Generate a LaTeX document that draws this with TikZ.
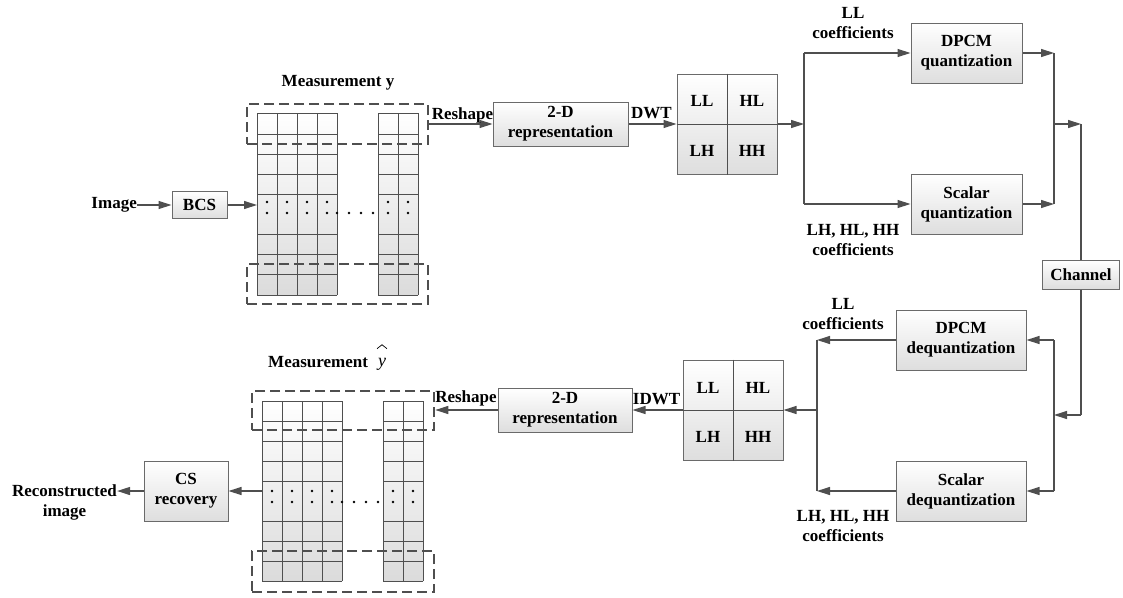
\documentclass[tikz,border=0pt]{standalone}
\usepackage{fontspec}
\setmainfont{Liberation Serif}
\usetikzlibrary{arrows.meta,calc}
\definecolor{lnc}{HTML}{4F4F4F}
\definecolor{bdc}{HTML}{6A6A6A}
\begin{document}
\begin{tikzpicture}[x=1pt,y=-1pt,
  txt/.style={font=\bfseries\fontsize{17}{20}\selectfont},
  box/.style={txt, draw=bdc, line width=1pt, top color=white, bottom color=black!13, align=center, inner sep=0pt},
  lbl/.style={txt, align=center, inner sep=0pt},
  arr/.style={draw=lnc, line width=1.3pt, -{Triangle[length=13pt,width=8pt]}},
  wire/.style={draw=lnc, line width=1.3pt},
  dbox/.style={draw=lnc, line width=2.6pt, dash pattern=on 10pt off 5pt, inner sep=0pt},
  gline/.style={draw=lnc, line width=1pt},
  dotc/.style={fill=black}
]
\useasboundingbox (0,0) rectangle (1123,597);

% ---------------- upper chain ----------------
\node[lbl, anchor=east] (img) at (137,205) {Image};
\node[box, minimum width=55, minimum height=27] (bcs) at (199.5,205) {BCS};
\draw[arr] (img.east) -- (img.east -| bcs.west);

% upper measurement grid
\shade[top color=white, bottom color=black!14] (257,113) rectangle (337,295);
\shade[top color=white, bottom color=black!14] (378,113) rectangle (418,295);
\foreach \x in {257,277,297,317,337} \draw[gline] (\x,113) -- (\x,295);
\foreach \x in {378,398,418} \draw[gline] (\x,113) -- (\x,295);
\foreach \y in {113,134,154,174,194,234,254,274,295} {
  \draw[gline] (257,\y) -- (337,\y);
  \draw[gline] (378,\y) -- (418,\y);
}
\foreach \x in {267,287,307,327,388,408} {
  \fill[dotc] (\x,202) circle[radius=1.3pt];
  \fill[dotc] (\x,213) circle[radius=1.3pt];
}
\foreach \x in {337,349,361,373} \fill[dotc] (\x,213) circle[radius=1.3pt];
\coordinate (gtin) at (257,205);
\draw[arr] (bcs.east) -- (bcs.east -| gtin);

\node[dbox, minimum width=181, minimum height=40] (dt) at (337.5,124) {};
\node[dbox, minimum width=181, minimum height=40] (db) at (337.5,284) {};
\node[lbl] (my) at (338,83) {Measurement y};

\node[box, minimum width=135, minimum height=44] (rep) at (560.5,124) {2-D\\representation};
\draw[arr] (dt.east) -- (rep.west);
\node[lbl] (rs1) at (462.5,115) {Reshape};

\node[draw=bdc, line width=1pt, top color=white, bottom color=black!13, minimum size=100, inner sep=0pt] (dwt) at (727,124) {};
\draw[gline] (dwt.north) -- (dwt.south);
\draw[gline] (dwt.west) -- (dwt.east);
\node[lbl] (dll) at (702,101) {LL};
\node[lbl] (dhl) at (752,101) {HL};
\node[lbl] (dlh) at (702,151) {LH};
\node[lbl] (dhh) at (752,151) {HH};
\draw[arr] (rep.east) -- (dwt.west);
\node[lbl] (dwtl) at (651.5,113.5) {DWT};

\coordinate (s1) at (804,124);
\coordinate (s1t) at (804,53);
\coordinate (s1b) at (804,204);
\draw[arr] (dwt.east) -- (s1);
\node[box, minimum width=111, minimum height=60] (dq) at (966.5,53) {DPCM\\quantization};
\node[box, minimum width=111, minimum height=60] (sq) at (966.5,204) {Scalar\\quantization};
\draw[wire] (s1t) -- (s1b);
\draw[arr] (s1t) -- (dq.west);
\draw[arr] (s1b) -- (sq.west);
\node[lbl] (llq) at (853,23) {LL\\coefficients};
\node[lbl] (hhq) at (853,240) {LH, HL, HH\\coefficients};

\coordinate (m1t) at (1054,53);
\coordinate (m1b) at (1054,204);
\coordinate (m1) at (1054,124);
\draw[arr] (dq.east) -- (m1t);
\draw[arr] (sq.east) -- (m1b);
\draw[wire] (m1t) -- (m1b);

\node[box, minimum width=77, minimum height=29] (ch) at (1081,274.5) {Channel};
\coordinate (c1) at (1081,124);
\draw[arr] (m1) -- (c1);
\draw[wire] (c1) -- (ch.north);

% ---------------- lower chain ----------------
\coordinate (c2) at (1081,415);
\coordinate (m2) at (1054,415);
\draw[wire] (ch.south) -- (c2);
\draw[arr] (c2) -- (m2);

\node[box, minimum width=130, minimum height=60] (dd) at (961,340) {DPCM\\dequantization};
\node[box, minimum width=130, minimum height=60] (sd) at (961,491) {Scalar\\dequantization};
\coordinate (m2t) at (1054,340);
\coordinate (m2b) at (1054,491);
\draw[wire] (m2t) -- (m2b);
\draw[arr] (m2t) -- (dd.east);
\draw[arr] (m2b) -- (sd.east);

\coordinate (s2t) at (817,340);
\coordinate (s2b) at (817,491);
\coordinate (s2) at (817,410);
\draw[arr] (dd.west) -- (s2t);
\draw[arr] (sd.west) -- (s2b);
\draw[wire] (s2t) -- (s2b);
\node[lbl] (lld) at (843,314) {LL\\coefficients};
\node[lbl] (hhd) at (843,526) {LH, HL, HH\\coefficients};

\node[draw=bdc, line width=1pt, top color=white, bottom color=black!13, minimum size=100, inner sep=0pt] (idwt) at (733,410) {};
\draw[gline] (idwt.north) -- (idwt.south);
\draw[gline] (idwt.west) -- (idwt.east);
\node[lbl] (ill) at (708,388) {LL};
\node[lbl] (ihl) at (758,388) {HL};
\node[lbl] (ilh) at (708,437) {LH};
\node[lbl] (ihh) at (758,437) {HH};
\draw[arr] (s2) -- (idwt.east);

\node[box, minimum width=134, minimum height=44] (rep2) at (565,410) {2-D\\representation};
\draw[arr] (idwt.west) -- (rep2.east);
\node[lbl] (idwtl) at (656.5,399.5) {IDWT};

% lower measurement grid
\shade[top color=white, bottom color=black!14] (262,401) rectangle (342,581);
\shade[top color=white, bottom color=black!14] (383,401) rectangle (423,581);
\foreach \x in {262,282,302,322,342} \draw[gline] (\x,401) -- (\x,581);
\foreach \x in {383,403,423} \draw[gline] (\x,401) -- (\x,581);
\foreach \y in {401,421,441,461,481,521,541,561,581} {
  \draw[gline] (262,\y) -- (342,\y);
  \draw[gline] (383,\y) -- (423,\y);
}
\foreach \x in {272,292,312,332,393,413} {
  \fill[dotc] (\x,491) circle[radius=1.3pt];
  \fill[dotc] (\x,502) circle[radius=1.3pt];
}
\foreach \x in {342,354,366,378} \fill[dotc] (\x,502) circle[radius=1.3pt];

\node[dbox, minimum width=182, minimum height=39] (dt2) at (343,410.5) {};
\node[dbox, minimum width=182, minimum height=41] (db2) at (343,571.5) {};
\draw[arr] (rep2.west) -- (rep2.west -| dt2.east);
\node[lbl] (rs2) at (466,398) {Reshape};
\node[txt, inner sep=0pt, anchor=west] (myh) at (268,362) {Measurement};
\node[inner sep=0pt, font=\fontsize{18}{20}\selectfont\itshape] (yh) at (382,364) {y};
\draw[draw=black, line width=0.7pt] ([xshift=-5pt,yshift=9pt]yh.north) -- ([yshift=13pt]yh.north) -- ([xshift=5pt,yshift=9pt]yh.north);

\coordinate (gbin) at (262,491);
\node[box, minimum width=84, minimum height=60] (cs) at (186,491) {CS\\recovery};
\draw[arr] (gbin) -- (gbin -| cs.east);
\node[lbl] (rec) at (64.5,502) {Reconstructed\\image};
\draw[arr] (cs.west) -- (cs.west -| rec.east);
\end{tikzpicture}
\end{document}
